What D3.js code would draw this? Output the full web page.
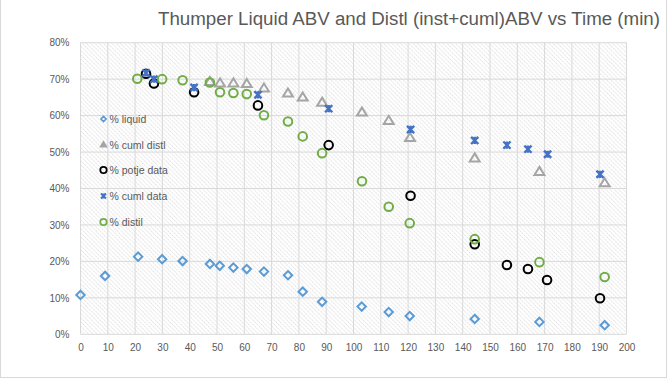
<!DOCTYPE html>
<html><head><meta charset="utf-8">
<script src="https://cdn.jsdelivr.net/npm/d3@7"></script>
<style>body{margin:0;background:#fff}svg{display:block}text{font-family:"Liberation Sans","Open Sans",sans-serif}</style>
</head><body><svg id="c" width="668" height="379"></svg>
<script>
const title = "Thumper Liquid ABV and Distl (inst+cuml)ABV vs Time (min)";
const seriesNames = ["% liquid", "% cuml distl", "% potje data", "% cuml data", "% distil"];
const xTicks = [0,10,20,30,40,50,60,70,80,90,100,110,120,130,140,150,160,170,180,190,200];
const yTicks = [0,0.1,0.2,0.3,0.4,0.5,0.6,0.7,0.8];

const liquidT = [0,9,21.1,29.9,37.4,47.4,51,56,60.9,67.2,76,81.4,88.5,103,112.9,120.6,144.4,168.1,192];
const liquidV = [0.108,0.160,0.213,0.206,0.201,0.193,0.188,0.183,0.179,0.172,0.162,0.117,0.089,0.076,0.061,0.050,0.042,0.034,0.025];

const cumlDistlT = [47.4,51.1,56,60.9,67.2,76,81.4,88.5,103.1,112.9,120.7,144.4,168.1,192];
const cumlDistlV = [0.694,0.690,0.690,0.688,0.676,0.662,0.651,0.637,0.610,0.587,0.540,0.484,0.447,0.416];

const potjeT = [24,26.9,41.6,65,90.9,120.9,144.4,156.2,163.9,170.9,190.3];
const potjeV = [0.715,0.688,0.664,0.628,0.519,0.380,0.247,0.190,0.179,0.149,0.099];

const cumlDataT = [24,26.9,41.6,65,90.9,120.9,144.4,156.2,163.9,171.1,190.3];
const cumlDataV = [0.717,0.700,0.677,0.657,0.619,0.562,0.532,0.519,0.508,0.494,0.439];

const distilT = [20.8,29.9,37.4,47.4,51.1,56,60.9,67.2,76,81.4,88.5,103.1,112.9,120.6,144.4,168.1,192];
const distilV = [0.701,0.700,0.697,0.691,0.664,0.662,0.659,0.601,0.584,0.543,0.497,0.420,0.350,0.305,0.261,0.198,0.157];

const svg = d3.select("#c");
const L = 80.5, R = 626.5, T = 42.7, B = 334.3;
const x = d3.scaleLinear().domain([0,200]).range([L,R]);
const y = d3.scaleLinear().domain([0,0.8]).range([B,T]);

// outer frame
svg.append("rect").attr("x",0.5).attr("y",-2).attr("width",666).attr("height",379.5)
  .attr("fill","none").attr("stroke","#d9d9d9");

// hatch pattern
const defs = svg.append("defs");
const pat = defs.append("pattern").attr("id","hatch").attr("patternUnits","userSpaceOnUse")
  .attr("width",3).attr("height",3).attr("patternTransform","rotate(-45)");
pat.append("line").attr("x1",0).attr("y1",0).attr("x2",0).attr("y2",3)
  .attr("stroke","#cccccc").attr("stroke-width",1.1).attr("stroke-dasharray","1,0.6");

svg.append("rect").attr("x",L).attr("y",T).attr("width",R-L).attr("height",B-T).attr("fill","url(#hatch)");

// grid
const g = svg.append("g");
g.selectAll(".vg").data(xTicks).join("line")
  .attr("x1",d=>x(d)).attr("x2",d=>x(d)).attr("y1",T).attr("y2",B)
  .attr("stroke","#d9d9d9").attr("stroke-width",1);
g.selectAll(".hg").data(yTicks).join("line")
  .attr("x1",L).attr("x2",R).attr("y1",d=>y(d)).attr("y2",d=>y(d))
  .attr("stroke","#d9d9d9").attr("stroke-width",1);

// axes
const xAxis = d3.axisBottom(x).tickValues(xTicks).tickSize(0).tickPadding(10);
const xa = svg.append("g").attr("transform",`translate(0,${B})`).call(xAxis);
xa.select(".domain").remove();
xa.selectAll("text").attr("fill","#595959").style("font-size","10px");

const yAxis = d3.axisLeft(y).tickValues(yTicks).tickSize(0).tickPadding(11).tickFormat(d3.format(".0%"));
const ya = svg.append("g").attr("transform",`translate(${L},0)`).call(yAxis);
ya.select(".domain").remove();
ya.selectAll("text").attr("fill","#595959").style("font-size","10px");

// markers
function diamond(sel, s){ return sel.attr("d",`M0,${-s}L${s},0L0,${s}L${-s},0Z`); }
function tri(sel, s){ return sel.attr("d",`M0,${-s}L${s*1.1},${s*0.8}L${-s*1.1},${s*0.8}Z`); }
function star(sel, s){ return sel.attr("d",`M${-s},${-s}L${s},${s}M${s},${-s}L${-s},${s}M0,${-s}L0,${s}`); }

const colors = ["#5b9bd5","#a5a5a5","#000000","#4472c4","#70ad47"];

const plot = svg.append("g");
plot.selectAll(".liq").data(liquidT.map((t,i)=>[t,liquidV[i]])).join("path")
  .call(diamond,4.2).attr("transform",d=>`translate(${x(d[0])},${y(d[1])})`)
  .attr("fill","none").attr("stroke",colors[0]).attr("stroke-width",2);
plot.selectAll(".cd").data(cumlDistlT.map((t,i)=>[t,cumlDistlV[i]])).join("path")
  .call(tri,4.5).attr("transform",d=>`translate(${x(d[0])},${y(d[1])})`)
  .attr("fill","none").attr("stroke",colors[1]).attr("stroke-width",2);
plot.selectAll(".pj").data(potjeT.map((t,i)=>[t,potjeV[i]])).join("circle")
  .attr("cx",d=>x(d[0])).attr("cy",d=>y(d[1])).attr("r",4.3)
  .attr("fill","none").attr("stroke",colors[2]).attr("stroke-width",2);
plot.selectAll(".cdata").data(cumlDataT.map((t,i)=>[t,cumlDataV[i]])).join("path")
  .call(star,3.6).attr("transform",d=>`translate(${x(d[0])},${y(d[1])})`)
  .attr("fill","none").attr("stroke",colors[3]).attr("stroke-width",2.4);
plot.selectAll(".ds").data(distilT.map((t,i)=>[t,distilV[i]])).join("circle")
  .attr("cx",d=>x(d[0])).attr("cy",d=>y(d[1])).attr("r",4.3)
  .attr("fill","none").attr("stroke",colors[4]).attr("stroke-width",2);

// legend
const legY = [119, 144.5, 170, 196, 222];
const lg = svg.append("g");
seriesNames.forEach((name,i)=>{
  const gy = legY[i], gx = 103.5;
  let m;
  if(i===0) m = lg.append("path").call(diamond,2.6).attr("fill","none").attr("stroke",colors[0]).attr("stroke-width",1.6);
  else if(i===1) m = lg.append("path").call(tri,3).attr("fill","#a5a5a5").attr("stroke",colors[1]).attr("stroke-width",1.2);
  else if(i===3) m = lg.append("path").call(star,2.5).attr("fill","none").attr("stroke",colors[3]).attr("stroke-width",2);
  else m = lg.append("circle").attr("r",3.2).attr("fill","none").attr("stroke",colors[i]).attr("stroke-width",1.8);
  m.attr("transform",`translate(${gx},${gy})`);
  lg.append("text").attr("x",109.5).attr("y",gy+4).text(name)
    .attr("fill","#595959").style("font-size","10.5px");
});

// title
svg.append("text").attr("x",158).attr("y",25).text(title)
  .attr("fill","#595959").style("font-size","18px")
  .attr("textLength",502).attr("lengthAdjust","spacingAndGlyphs");
</script></body></html>
